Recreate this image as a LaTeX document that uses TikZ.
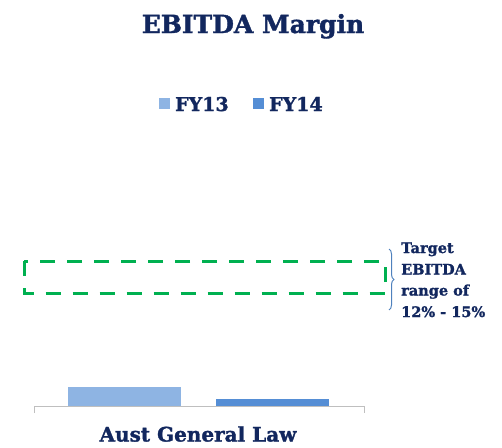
\documentclass[tikz,border=0pt]{standalone}
\usepackage{fontspec}
\setmainfont{DejaVu Serif}[BoldFeatures={FakeBold=1.5}]
\usetikzlibrary{decorations.pathreplacing}
\definecolor{navy}{HTML}{12275E}
\definecolor{barA}{HTML}{8EB4E3}
\definecolor{barB}{HTML}{558ED5}
\definecolor{brc}{HTML}{4F81BD}
\definecolor{grn}{HTML}{00B050}
\definecolor{axisgray}{HTML}{BFBFBF}
\begin{document}
\begin{tikzpicture}[x=1pt,y=-1pt,
  lbl/.style={text=navy,font=\bfseries,inner sep=0pt},
  tg/.style={lbl,font=\bfseries\fontsize{14.5}{17}\selectfont,anchor=base west}]
\useasboundingbox (0,0) rectangle (502,447);
\node[lbl,font=\bfseries\fontsize{25}{29}\selectfont,anchor=base] (title) at (253,33) {EBITDA Margin};
% legend
\node[fill=barA,minimum size=11pt,inner sep=0pt] (sqA) at (164,103.5) {};
\node[lbl,font=\bfseries\fontsize{19}{22}\selectfont,anchor=base west] (fyA) at (175,111) {FY13};
\node[fill=barB,minimum size=11pt,inner sep=0pt] (sqB) at (258,103.5) {};
\node[lbl,font=\bfseries\fontsize{19}{22}\selectfont,anchor=base west] (fyB) at (269,111) {FY14};
% dashed target box
\draw[grn,line width=3pt,dash pattern=on 15pt off 12pt] (24,261) rectangle (385,293.5);
% brace
\draw[brc,line width=1pt,decorate,decoration={brace,amplitude=5pt}] (389,249) -- (389,310);
\node[tg] (t1) at (401,253) {Target};
\node[tg] (t2) at (401,274.5) {EBITDA};
\node[tg] (t3) at (401,295.5) {range of};
\node[tg] (t4) at (401,317) {12\% - 15\%};
% bars
\fill[barA] (68,387) rectangle (181,406);
\fill[barB] (216,399) rectangle (329,406);
\draw[axisgray,line width=1pt] (34,413) -- (34,406) -- (364,406) -- (364,413);
\node[lbl,font=\bfseries\fontsize{20}{24}\selectfont,anchor=base,text depth=0pt] (cat) at (198,441.5) {Aust General Law};
\end{tikzpicture}
\end{document}
